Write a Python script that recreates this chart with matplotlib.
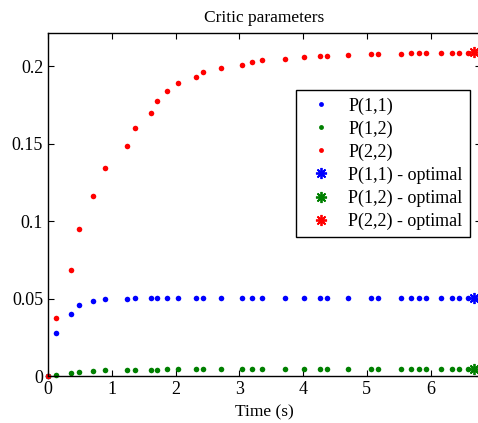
import numpy as np
import matplotlib.pyplot as plt

plt.rcParams['font.family'] = ['Liberation Serif', 'DejaVu Serif']

# time samples (s)
t = [0.0, 0.12, 0.36, 0.48, 0.71, 0.89, 1.24, 1.36, 1.61, 1.71, 1.87, 2.04,
     2.32, 2.43, 2.71, 3.04, 3.20, 3.35, 3.71, 4.02, 4.26, 4.38, 4.71, 5.06,
     5.17, 5.54, 5.70, 5.81, 5.93, 6.17, 6.33, 6.45, 6.58]

p11 = [0.0, 0.0275, 0.0398, 0.0456, 0.0482, 0.0495, 0.0495, 0.0501, 0.0501,
       0.0501, 0.0501, 0.0501, 0.0501, 0.0501, 0.0501, 0.0501, 0.0501, 0.0501,
       0.0501, 0.0501, 0.0501, 0.0501, 0.0501, 0.0501, 0.0501, 0.0501, 0.0501,
       0.0501, 0.0501, 0.0501, 0.0501, 0.0501, 0.0501]

p12 = [0.0, 0.0004, 0.0017, 0.0024, 0.0030, 0.0037, 0.0037, 0.0037, 0.0037,
       0.0037, 0.0043, 0.0043, 0.0043, 0.0043, 0.0043, 0.0043, 0.0043, 0.0043,
       0.0043, 0.0043, 0.0043, 0.0043, 0.0043, 0.0043, 0.0043, 0.0043, 0.0043,
       0.0043, 0.0043, 0.0043, 0.0043, 0.0043, 0.0043]

p22 = [0.0, 0.0372, 0.0684, 0.0946, 0.1159, 0.1340, 0.1484, 0.1600, 0.1695,
       0.1774, 0.1839, 0.1890, 0.1927, 0.1959, 0.1985, 0.2004, 0.2023, 0.2036,
       0.2043, 0.2058, 0.2065, 0.2065, 0.2069, 0.2075, 0.2075, 0.2075, 0.2082,
       0.2082, 0.2082, 0.2082, 0.2082, 0.2082, 0.2086]

t_opt = 6.68
p11_opt = 0.0501
p12_opt = 0.0047
p22_opt = 0.2088

blue = (0, 0, 1)
green = (0, 0.5, 0)
red = (1, 0, 0)

fig = plt.figure(figsize=(4.78, 4.23), dpi=100)
ax = fig.add_axes([48/478, 47/423, 433/478, 343/423])

ax.plot(t, p11, '.', color=blue, ms=8, mew=0, clip_on=False, label='P(1,1)')
ax.plot(t, p12, '.', color=green, ms=8, mew=0, clip_on=False, label='P(1,2)')
ax.plot(t, p22, '.', color=red, ms=8, mew=0, clip_on=False, label='P(2,2)')
ax.plot(t_opt, p11_opt, ls='none', marker=(8, 2, 0), color=blue, ms=8, mew=1.3, label='P(1,1) - optimal')
ax.plot(t_opt, p12_opt, ls='none', marker=(8, 2, 0), color=green, ms=8, mew=1.3, label='P(1,2) - optimal')
ax.plot(t_opt, p22_opt, ls='none', marker=(8, 2, 0), color=red, ms=8, mew=1.3, label='P(2,2) - optimal')

ax.set_xlim(0, 6.79)
ax.set_ylim(0, 0.2213)
ax.set_xticks(range(7))
ax.set_yticks([0, 0.05, 0.1, 0.15, 0.2])
ax.set_yticklabels(['0', '0.05', '0.1', '0.15', '0.2'])
ax.tick_params(direction='in', top=True, right=True, labelsize=13, length=4)
for s in ax.spines.values():
    s.set_linewidth(1)

ax.set_title('Critic parameters', fontsize=12.5, pad=8)
ax.set_xlabel('Time (s)', fontsize=12.5, labelpad=4.5)

leg = ax.legend(loc='upper left', bbox_to_anchor=(296/478, 1 - 90/423),
                bbox_transform=fig.transFigure, borderaxespad=0,
                fancybox=False, edgecolor='black', framealpha=1,
                fontsize=13, labelspacing=0.32, handletextpad=0.5)
leg.get_frame().set_linewidth(1)
for h in leg.legend_handles[:3]:
    h.set_markersize(7)

fig.savefig('out.png', dpi=100)
